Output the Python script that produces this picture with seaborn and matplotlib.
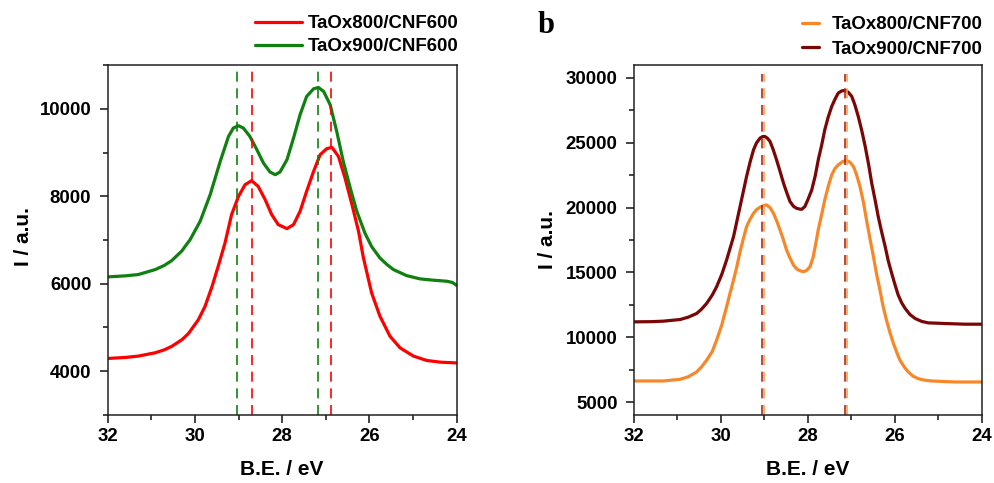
import matplotlib
matplotlib.use("Agg")
import matplotlib.pyplot as plt
import seaborn as sns
import pandas as pd
from matplotlib.ticker import MultipleLocator

# ---------------- data ----------------
be_800_600 = [32.0, 31.6, 31.3, 30.91, 30.7, 30.53, 30.3, 30.15, 29.92, 29.77, 29.61, 29.46,
              29.31, 29.16, 29.0, 28.85, 28.7, 28.55, 28.39, 28.24, 28.09, 27.89, 27.74,
              27.59, 27.44, 27.28, 27.13, 26.98, 26.86, 26.71, 26.56, 26.4, 26.25, 26.14,
              25.95, 25.76, 25.53, 25.3, 24.99, 24.69, 24.38, 24.0]
i_800_600 = [4292, 4315, 4346, 4422, 4490, 4570, 4720, 4860, 5180, 5480, 5930, 6420,
             6934, 7580, 8000, 8265, 8356, 8226, 7922, 7580, 7352, 7260, 7352,
             7656, 8112, 8569, 8950, 9087, 9117, 8911, 8418, 7808, 7200, 6600,
             5791, 5259, 4802, 4536, 4346, 4247, 4208, 4190]

be_900_600 = [32.0, 31.6, 31.3, 30.91, 30.7, 30.53, 30.3, 30.11, 29.88, 29.65, 29.42, 29.23,
              29.12, 29.0, 28.89, 28.74, 28.58, 28.43, 28.28, 28.16, 28.05, 27.89, 27.74,
              27.59, 27.44, 27.28, 27.17, 27.05, 26.9, 26.75, 26.6, 26.44, 26.29, 26.1,
              25.95, 25.76, 25.6, 25.45, 25.15, 24.84, 24.53, 24.23, 24.1, 24.04, 24.0]
i_900_600 = [6157, 6180, 6210, 6324, 6420, 6530, 6750, 7009, 7427, 8037, 8797, 9368,
             9559, 9612, 9559, 9368, 9064, 8760, 8554, 8493, 8554, 8836, 9331,
             9863, 10281, 10457, 10487, 10396, 10091, 9482, 8797, 8189, 7656, 7150,
             6850, 6590, 6440, 6324, 6187, 6111, 6081, 6058, 6030, 5990, 5960]

be_800_700 = [32.0, 31.33, 30.94, 30.75, 30.56, 30.45, 30.33, 30.2, 30.1, 29.98, 29.87,
              29.79, 29.71, 29.63, 29.56, 29.48, 29.41, 29.33, 29.25, 29.18, 29.1, 29.02,
              28.95, 28.87, 28.79, 28.72, 28.64, 28.56, 28.49, 28.41, 28.33, 28.25, 28.18,
              28.1, 28.03, 27.95, 27.88, 27.83, 27.76, 27.68, 27.61, 27.53, 27.45, 27.38,
              27.3, 27.2, 27.11, 27.03, 26.95, 26.88, 26.8, 26.72, 26.65, 26.57, 26.49,
              26.42, 26.34, 26.27, 26.19, 26.11, 26.03, 25.95, 25.88, 25.78, 25.69, 25.58,
              25.46, 25.3, 25.15, 24.61, 24.0]
i_800_700 = [6624, 6624, 6753, 6950, 7320, 7700, 8222, 8900, 9768, 10950, 12345,
             13400, 14407, 15500, 16598, 17650, 18531, 19100, 19562, 19850, 20026, 20150,
             20206, 20000, 19562, 19000, 18273, 17500, 16727, 16100, 15567, 15250, 15129,
             15052, 15150, 15438, 16150, 17000, 18300, 19500, 20593, 21650, 22526, 23000,
             23299, 23550, 23634, 23500, 23170, 22550, 21624, 20400, 19046, 17600, 16211,
             14900, 13634, 12400, 11314, 10350, 9510, 8800, 8222, 7700, 7320, 7000,
             6804, 6680, 6624, 6546, 6546]

be_900_700 = [32.0, 31.6, 31.33, 30.94, 30.75, 30.56, 30.45, 30.33, 30.2, 30.1, 29.98,
              29.87, 29.71, 29.56, 29.41, 29.33, 29.25, 29.18, 29.1, 29.04, 28.99, 28.93,
              28.87, 28.8, 28.72, 28.64, 28.56, 28.48, 28.41, 28.33, 28.26, 28.18, 28.14,
              28.07, 28.0, 27.91, 27.83, 27.76, 27.68, 27.61, 27.53, 27.45, 27.37, 27.3,
              27.22, 27.14, 27.07, 26.99, 26.92, 26.84, 26.76, 26.68, 26.6, 26.53, 26.45,
              26.38, 26.3, 26.22, 26.15, 26.07, 25.99, 25.92, 25.84, 25.76, 25.65, 25.53,
              25.38, 25.23, 24.84, 24.38, 24.0]
i_900_700 = [11186, 11200, 11237, 11366, 11550, 11830, 12150, 12603, 13250, 13892, 14850,
             15954, 17758, 20077, 22397, 23500, 24459, 25000, 25361, 25480, 25490, 25350,
             25103, 24500, 23686, 22800, 21881, 21100, 20464, 20100, 19948, 19880, 19871,
             20077, 20600, 21366, 22450, 23686, 24850, 26005, 27000, 27809, 28400, 28840,
             29000, 29046, 28900, 28582, 27950, 27036, 25950, 24716, 23300, 21881, 20550,
             19304, 18100, 16985, 15900, 14923, 14000, 13247, 12650, 12216, 11750, 11443,
             11220, 11108, 11057, 11005, 11005]

peaks_800_600 = [28.7, 26.89]
peaks_900_600 = [29.03, 27.19]
peaks_800_700 = [29.0, 27.1]
peaks_900_700 = [29.05, 27.15]

labels_a = ["TaOx800/CNF600", "TaOx900/CNF600"]
labels_b = ["TaOx800/CNF700", "TaOx900/CNF700"]
xticks = [32, 30, 28, 26, 24]
yticks_a = [4000, 6000, 8000, 10000]
yticks_b = [5000, 10000, 15000, 20000, 25000, 30000]

c_red, c_green = "#FF0000", "#108010"
c_orange, c_dred = "#F7882A", "#7A0606"
c_orange_d, c_dred_d = "#F5A24A", "#A52A2A"

# ---------------- style ----------------
sns.set_theme(style="ticks")
plt.rcParams["font.family"] = ["Liberation Sans", "DejaVu Sans"]
plt.rcParams.update({
    "font.weight": "bold",
    "axes.labelweight": "bold",
    "text.color": "black",
    "axes.labelcolor": "black",
    "axes.linewidth": 1.1,
    "axes.edgecolor": "#222222",
    "xtick.major.size": 5.8, "ytick.major.size": 5.8,
    "xtick.minor.size": 3.6, "ytick.minor.size": 3.6,
    "xtick.major.width": 1.1, "ytick.major.width": 1.1,
    "xtick.minor.width": 1.1, "ytick.minor.width": 1.1,
    "xtick.direction": "out", "ytick.direction": "out",
    "xtick.color": "#111111", "ytick.color": "#111111",
    "xtick.labelcolor": "black", "ytick.labelcolor": "black",
})

fig = plt.figure(figsize=(9.95, 4.83), dpi=100)
ax1 = fig.add_axes([0.1082, 0.1408, 0.3508, 0.7246])
ax2 = fig.add_axes([0.6372, 0.1408, 0.3494, 0.7246])

df_a1 = pd.DataFrame({"be": be_800_600, "i": i_800_600})
df_a2 = pd.DataFrame({"be": be_900_600, "i": i_900_600})
df_b1 = pd.DataFrame({"be": be_800_700, "i": i_800_700})
df_b2 = pd.DataFrame({"be": be_900_700, "i": i_900_700})

lw = 2.3
sns.lineplot(data=df_a1, x="be", y="i", ax=ax1, color=c_red, lw=lw, label=labels_a[0])
sns.lineplot(data=df_a2, x="be", y="i", ax=ax1, color=c_green, lw=lw, label=labels_a[1])
sns.lineplot(data=df_b2, x="be", y="i", ax=ax2, color=c_dred, lw=lw, label=labels_b[1])
sns.lineplot(data=df_b1, x="be", y="i", ax=ax2, color=c_orange, lw=lw, label=labels_b[0])

dash = (0, (6, 4))
for p in peaks_900_600:
    ax1.axvline(p, color=c_green, lw=1.2, ls=dash)
for p in peaks_800_600:
    ax1.axvline(p, color=c_red, lw=1.2, ls=dash)
for p in peaks_900_700:
    ax2.vlines(p, 4000, 30300, color=c_dred_d, lw=1.2, ls=dash)
for p in peaks_800_700:
    ax2.vlines(p, 4000, 30300, color=c_orange_d, lw=1.2, ls=dash)

fs_tick, fs_lab = 13.4, 15
for ax, yt, ylim, ymin in ((ax1, yticks_a, (3000, 11000), 1000),
                           (ax2, yticks_b, (4000, 31000), 2500)):
    ax.set_xlim(32, 24)
    ax.set_ylim(*ylim)
    ax.set_xticks(xticks)
    ax.set_yticks(yt)
    ax.xaxis.set_minor_locator(MultipleLocator(1))
    ax.yaxis.set_minor_locator(MultipleLocator(ymin))
    ax.tick_params(axis="both", which="both", top=False, right=False)
    ax.tick_params(axis="x", which="major", labelsize=fs_tick, pad=3.5)
    ax.tick_params(axis="y", which="major", labelsize=fs_tick, pad=6)
    for t in ax.get_xticklabels() + ax.get_yticklabels():
        t.set_fontweight("bold")
    ax.set_xlabel("B.E. / eV", fontsize=fs_lab, fontweight="bold")
    ax.set_ylabel("I / a.u.", fontsize=fs_lab, fontweight="bold")
    ax.xaxis.set_label_coords(0.5, -0.13)
    for s in ax.spines.values():
        s.set_visible(True)

ax1.yaxis.set_label_coords(-0.214, 0.51)
ax2.yaxis.set_label_coords(-0.2215, 0.5)

# legends (order: 800 first, then 900)
h1, l1 = ax1.get_legend_handles_labels()
ax1.legend(h1, l1, loc="lower right",
           bbox_to_anchor=(1.004, 1.028), frameon=False, borderpad=0, borderaxespad=0,
           handlelength=2.5, handletextpad=0.3, labelspacing=0.32,
           prop={"size": fs_tick, "weight": "bold"})
h2, l2 = ax2.get_legend_handles_labels()
ax2.legend([h2[1], h2[0]], [l2[1], l2[0]], loc="lower right",
           bbox_to_anchor=(1.004, 1.02), frameon=False, borderpad=0, borderaxespad=0,
           handlelength=0.9, handletextpad=0.7, labelspacing=0.42,
           prop={"size": fs_tick, "weight": "bold"})

fig.text(538 / 995, 1 - 33 / 483, "b", fontsize=22, fontweight="bold",
         family=["Liberation Serif", "DejaVu Serif"], va="baseline", ha="left")

fig.savefig("out.png", dpi=100)
